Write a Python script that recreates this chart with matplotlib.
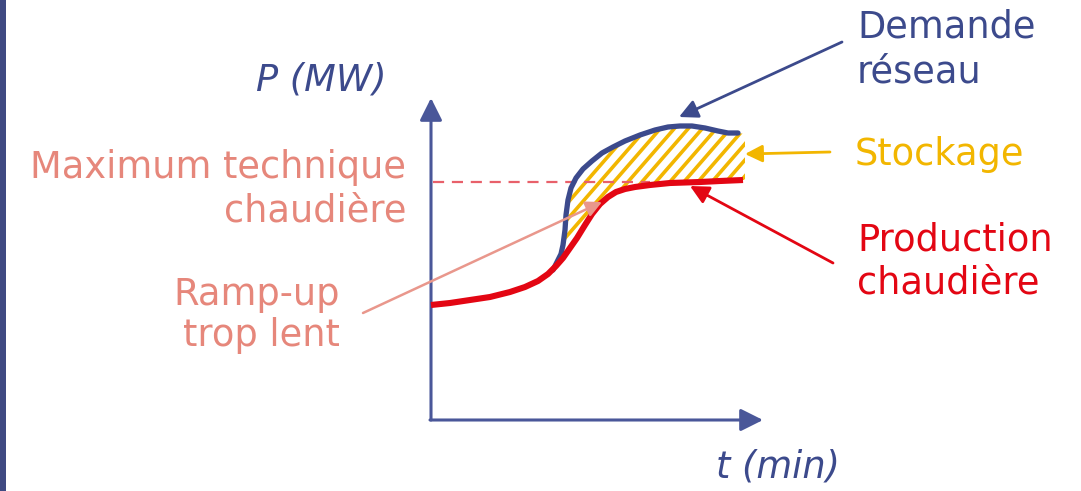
import numpy as np
import matplotlib
matplotlib.use("Agg")
import matplotlib.pyplot as plt
from matplotlib.patches import Polygon, Rectangle

# ---- data (diagram units: pixel-like coordinates, y grows downward) ----
prod_x = [431, 450, 470, 490, 510, 525, 538, 548, 556, 563, 570, 577, 585, 592,
          600, 608, 616, 625, 635, 650, 670, 700, 720, 743]
prod_y = [305, 303, 300, 297, 292, 287, 281, 274, 266, 258, 248, 238, 225, 214,
          204, 197, 192, 189, 187, 185, 183, 182, 181, 180]

dem_x = [553, 557, 561, 563, 565, 566, 568, 571, 576, 583, 592, 602, 613, 625,
         640, 655, 668, 680, 692, 705, 718, 728, 738]
dem_y = [270, 262, 254, 245, 230, 215, 200, 188, 178, 169, 161, 153, 147, 141,
         135, 130, 127, 126, 126, 128, 131, 133, 133]

max_tech_y = 182
max_tech_x = [433, 650]

BLUE = "#3c4a8c"
RED = "#e30613"
SALMON = "#e6877b"
GOLD = "#f2b600"
AXIS = "#4a5799"

plt.rcParams['font.family'] = ['DejaVu Sans']
fig = plt.figure(figsize=(10.81, 4.91), dpi=100)
ax = fig.add_axes([0, 0, 1, 1])
ax.set_xlim(0, 1081)
ax.set_ylim(491, 0)
ax.axis('off')

# left band
ax.add_patch(Rectangle((0, 0), 6, 491, color="#3f4a82", lw=0))

# hatched storage area
top = [(x, y) for x, y in zip(dem_x, dem_y) if x >= 562] + [(745, 134)]
bot = [(745, 180)] + [(x, y) for x, y in zip(prod_x, prod_y) if x >= 562][::-1]
poly = Polygon(top + bot, closed=True, facecolor='none', edgecolor='none')
ax.add_patch(poly)
spacing = 14
for x0 in np.arange(420, 900, spacing):
    ln, = ax.plot([x0, x0 + 120], [260, 260 - 120 * 1.15], color=GOLD, lw=2.6,
                  solid_capstyle='butt', zorder=2)
    ln.set_clip_path(poly)

# max technique dashed line
ax.plot(max_tech_x, [max_tech_y] * 2, color="#e8606a", lw=1.6,
        dashes=(5, 3.5), zorder=3)

# axes with arrows
ax.annotate('', xy=(431, 98), xytext=(431, 420),
            arrowprops=dict(arrowstyle='-|>', lw=2.2, color=AXIS,
                            mutation_scale=34, shrinkA=0, shrinkB=0))
ax.annotate('', xy=(763, 420), xytext=(430, 420),
            arrowprops=dict(arrowstyle='-|>', lw=2.2, color=AXIS,
                            mutation_scale=34, shrinkA=0, shrinkB=0))

# curves
ax.plot(dem_x, dem_y, color=BLUE, lw=3.8, solid_capstyle='round',
        solid_joinstyle='round', zorder=4)
ax.plot(prod_x, prod_y, color=RED, lw=4.4, solid_capstyle='butt',
        solid_joinstyle='round', zorder=5)

# annotation arrows
ax.annotate('', xy=(679, 117), xytext=(842, 42),
            arrowprops=dict(arrowstyle='-|>', lw=2.0, color=BLUE,
                            mutation_scale=28, shrinkA=0, shrinkB=0), zorder=6)
ax.annotate('', xy=(745, 154), xytext=(830, 152),
            arrowprops=dict(arrowstyle='-|>', lw=2.0, color=GOLD,
                            mutation_scale=26, shrinkA=0, shrinkB=0), zorder=6)
ax.annotate('', xy=(690, 186), xytext=(833, 263),
            arrowprops=dict(arrowstyle='-|>', lw=2.0, color=RED,
                            mutation_scale=28, shrinkA=0, shrinkB=0), zorder=6)
ax.annotate('', xy=(602, 202), xytext=(363, 313),
            arrowprops=dict(arrowstyle='-|>', lw=1.8, color="#e9978c",
                            mutation_scale=24, shrinkA=0, shrinkB=0), zorder=6)

FS = 26.5
# texts
ax.text(256, 90, "P (MW)", style='italic', color=BLUE, fontsize=FS, va='baseline', ha='left')
ax.text(716, 478, "t (min)", style='italic', color=BLUE, fontsize=FS, va='baseline', ha='left')
ax.text(406, 178, "Maximum technique", color=SALMON, fontsize=FS, va='baseline', ha='right')
ax.text(406, 222, "chaudière", color=SALMON, fontsize=FS, va='baseline', ha='right')
ax.text(340, 305, "Ramp-up", color=SALMON, fontsize=FS, va='baseline', ha='right')
ax.text(340, 346, "trop lent", color=SALMON, fontsize=FS, va='baseline', ha='right')
ax.text(857, 37, "Demande", color=BLUE, fontsize=FS, va='baseline', ha='left')
ax.text(857, 82, "réseau", color=BLUE, fontsize=FS, va='baseline', ha='left')
ax.text(855, 165, "Stockage", color=GOLD, fontsize=FS, va='baseline', ha='left')
ax.text(857, 250, "Production", color=RED, fontsize=FS, va='baseline', ha='left')
ax.text(857, 294, "chaudière", color=RED, fontsize=FS, va='baseline', ha='left')

fig.savefig("out.png", dpi=100)
